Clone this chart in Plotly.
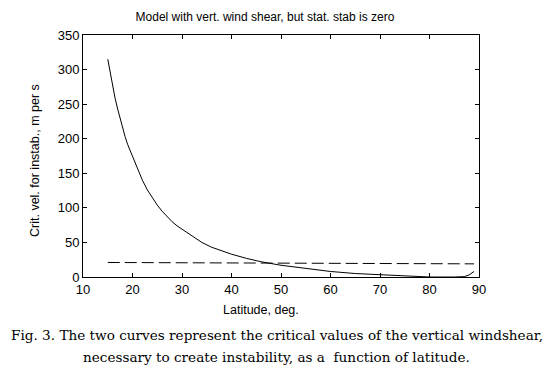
import plotly.graph_objects as go

# Solid curve: critical velocity vs latitude
lat_solid = [15, 15.5, 16, 16.5, 17, 17.5, 18, 18.5, 19, 19.5, 20, 21, 22, 23, 24, 25, 26, 27, 28, 29, 30,
             32, 34, 36, 38, 40, 43, 46, 50, 55, 60, 65, 70, 75, 80, 85, 87, 88, 89]
vel_solid = [315, 294, 275, 258, 243, 229, 215, 203, 192, 183, 175, 156, 140, 126, 114, 104, 95, 87, 80, 74, 69,
             59, 50, 43, 38, 33, 27, 22, 17, 12, 8, 5, 3, 1, 0, 0, 0.5, 3, 8]

# Dashed curve
lat_dash = [15, 30, 50, 70, 89]
vel_dash = [21, 20.6, 20, 19.5, 19]

title_text = "Model with vert. wind shear, but stat. stab is zero"
x_title = "Latitude, deg."
y_title = "Crit. vel. for instab., m per s"
caption1 = "Fig. 3. The two curves represent the critical values of the vertical windshear,"
caption2 = "necessary to create instability, as a  function of latitude."

x_ticks = [10, 20, 30, 40, 50, 60, 70, 80, 90]
y_ticks = [0, 50, 100, 150, 200, 250, 300, 350]

W, H = 553, 376
L, R, T, B = 83, 74, 35, 99
PW = W - L - R
PH = H - T - B

fig = go.Figure()
fig.add_trace(go.Scatter(x=lat_solid, y=vel_solid, mode="lines",
                         line=dict(color="black", width=1),
                         showlegend=False, hoverinfo="skip"))
fig.add_trace(go.Scatter(x=lat_dash, y=vel_dash, mode="lines",
                         line=dict(color="black", width=1, dash="12px,5px"),
                         showlegend=False, hoverinfo="skip"))

axis_common = dict(showgrid=False, zeroline=False, showline=True, linecolor="black",
                   linewidth=1, mirror="ticks", ticks="inside", ticklen=4, automargin=False,
                   tickcolor="black", tickfont=dict(family="Liberation Sans", size=13, color="black"))

fig.update_xaxes(range=[10, 90], tickvals=x_ticks, **axis_common)
fig.update_yaxes(range=[0, 350], tickvals=y_ticks, **axis_common)

sans12 = dict(family="Liberation Sans", size=12, color="black")
sans_ax = dict(family="Liberation Sans", size=12.5, color="black")
serif = dict(family="DejaVu Serif", size=13.6, color="black")

def px(xpix):
    return (xpix - L) / PW

def py(ypix):
    return (H - B - ypix) / PH

fig.update_layout(
    template="none",
    width=W, height=H,
    margin=dict(l=L, r=R, t=T, b=B, autoexpand=False),
    paper_bgcolor="white", plot_bgcolor="white",
    title=dict(text=title_text, x=px(265), xanchor="center", xref="paper", y=1 - 17 / H, yanchor="middle",
               font=sans12),
    annotations=[
        dict(text=x_title, xref="paper", yref="paper", x=px(261), y=py(310),
             xanchor="center", yanchor="middle", showarrow=False, font=sans_ax),
        dict(text=y_title, xref="paper", yref="paper", x=px(35), y=py(161),
             xanchor="center", yanchor="middle", showarrow=False, textangle=-90, font=sans_ax),
        dict(text=caption1, xref="paper", yref="paper", x=px(276.5), y=py(335),
             xanchor="center", yanchor="middle", showarrow=False, font=serif),
        dict(text=caption2, xref="paper", yref="paper", x=px(276.5), y=py(357),
             xanchor="center", yanchor="middle", showarrow=False, font=serif),
    ],
)

fig.write_html("out.html", config={"displayModeBar": False},
               post_script="document.body.style.margin='0';")
